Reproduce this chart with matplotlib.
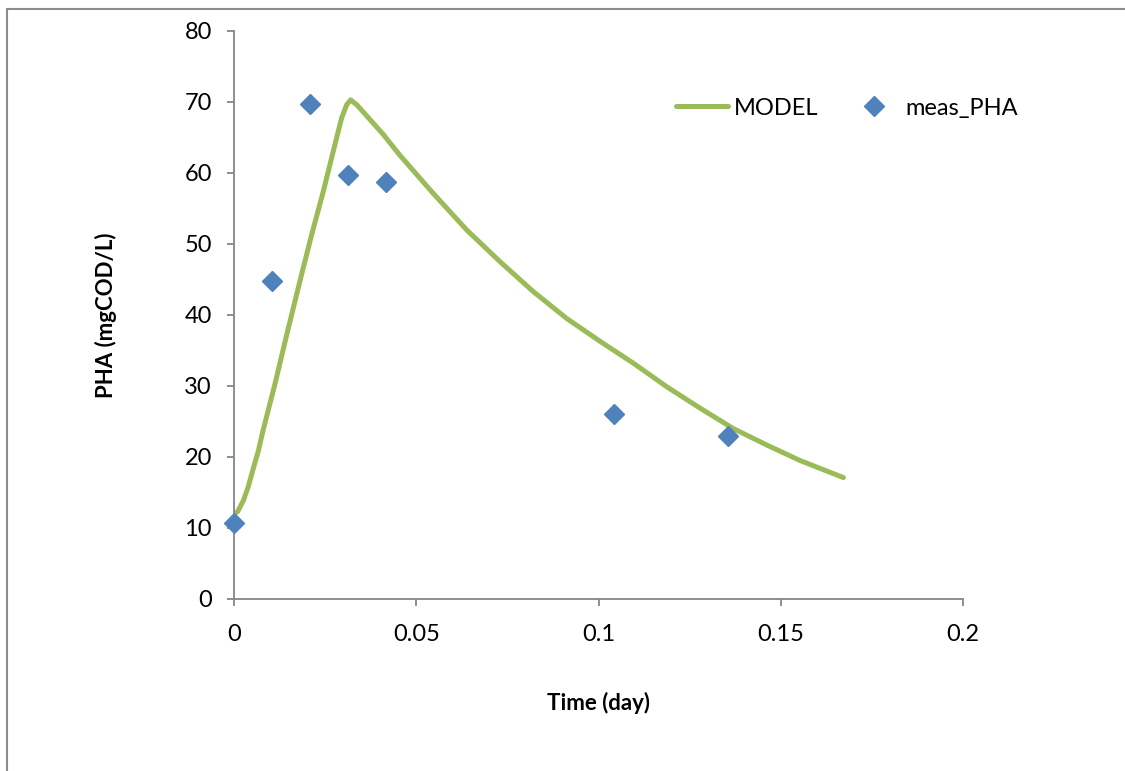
import matplotlib
matplotlib.use('Agg')
import matplotlib.pyplot as plt
from matplotlib.patches import Rectangle

plt.rcParams['font.family'] = ['Lato', 'DejaVu Sans']

# measured PHA
meas_t = [0.0, 0.0104, 0.0208, 0.03125, 0.0417, 0.1042, 0.1354]
meas_pha = [10.7, 44.8, 69.7, 59.7, 58.8, 26.1, 23.0]

# model output
model_t = [0.0, 0.001, 0.0026, 0.0039, 0.0053, 0.0067, 0.008, 0.0094,
           0.0112, 0.0145, 0.0181, 0.0213, 0.0245, 0.0272, 0.0295, 0.0309,
           0.032, 0.0337, 0.041, 0.0455, 0.0547, 0.0638, 0.073, 0.0821,
           0.0913, 0.1004, 0.1096, 0.1187, 0.1278, 0.137, 0.1461, 0.1553,
           0.1672]
model_pha = [12.0, 12.3, 13.9, 15.8, 18.4, 20.9, 23.8, 26.6,
             30.2, 37.3, 44.8, 51.3, 57.4, 63.0, 67.7, 69.6,
             70.3, 69.6, 65.4, 62.5, 57.1, 52.0, 47.5, 43.3,
             39.5, 36.3, 33.2, 29.9, 26.9, 24.0, 21.7, 19.5,
             17.1]

xticks = [0, 0.05, 0.1, 0.15, 0.2]
xticklabels = ['0', '0.05', '0.1', '0.15', '0.2']
yticks = [0, 10, 20, 30, 40, 50, 60, 70, 80]

green = '#9BBB59'
blue = '#4F81BD'
grey = '#868686'

fig = plt.figure(figsize=(11.25, 7.71), dpi=100)
ax = fig.add_axes([0.208, 0.2231, 0.648, 0.7367])

ax.plot(model_t, model_pha, color=green, lw=3.6, solid_capstyle='round',
        solid_joinstyle='round', label='MODEL')
ax.plot(meas_t, meas_pha, ls='none', marker='D', ms=10, color=blue,
        label='meas_PHA', clip_on=False, zorder=3)

ax.set_xlim(0, 0.2)
ax.set_ylim(0, 80)
ax.set_xticks(xticks)
ax.set_xticklabels(xticklabels)
ax.set_yticks(yticks)

for side in ['top', 'right']:
    ax.spines[side].set_visible(False)
for side in ['left', 'bottom']:
    ax.spines[side].set_color(grey)
    ax.spines[side].set_linewidth(1.3)
ax.tick_params(direction='out', length=5, width=1.3, color=grey,
               labelsize=17)
ax.tick_params(axis='x', pad=13)
ax.tick_params(axis='y', pad=11)

ax.set_xlabel('Time (day)', fontsize=16, fontweight='bold', labelpad=34)
ax.set_ylabel('PHA (mgCOD/L)', fontsize=16, fontweight='bold', labelpad=48)

ax.legend(loc='center left', bbox_to_anchor=(0.6063, 0.8644), ncol=2,
          frameon=False, fontsize=17, handlelength=2.2, handletextpad=0.25,
          columnspacing=1.25, borderpad=0, borderaxespad=0)

# outer chart border
fig.patches.append(Rectangle((7 / 1125, -0.1), 1.2, 1 - 9 / 771 + 0.1,
                             transform=fig.transFigure, fill=False,
                             edgecolor='#8c8c8c', lw=1.5))

fig.savefig('out.png', dpi=100)
